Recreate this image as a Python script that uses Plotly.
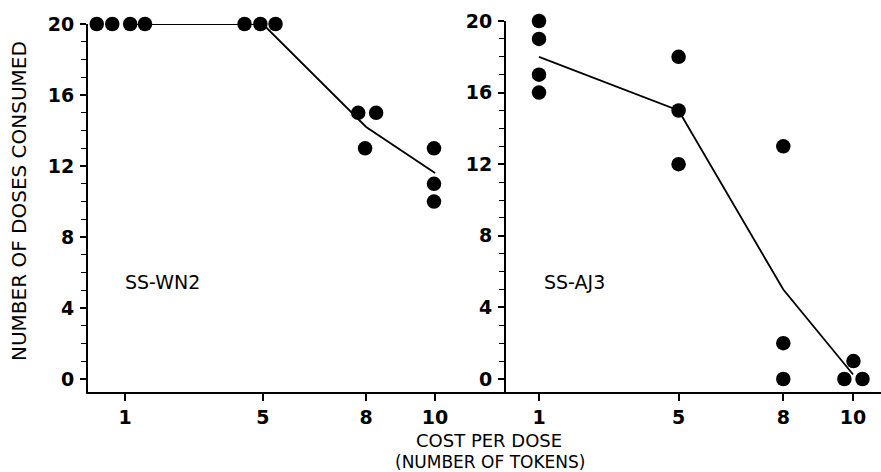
import plotly.graph_objects as go

# ---- data ----
cost_ticks = [1, 5, 8, 10]
cost_labels = ["1", "5", "8", "10"]
dose_ticks = [0, 4, 8, 12, 16, 20]
dose_labels = ["0", "4", "8", "12", "16", "20"]

# SS-WN2 individual sessions (x slightly jittered as drawn)
wn2_x = [0.18, 0.63, 1.15, 1.58, 4.47, 4.93, 5.37, 7.77, 8.29, 7.97, 9.97, 9.97, 9.97]
wn2_y = [20, 20, 20, 20, 20, 20, 20, 15, 15, 13, 13, 11, 10]
wn2_mean_x = [1, 5, 8, 10]
wn2_mean_y = [20, 20, 14.2, 11.6]

# SS-AJ3 individual sessions
aj3_x = [1, 1, 1, 1, 5, 5, 5, 8, 8, 8, 9.75, 10.01, 10.27]
aj3_y = [20, 19, 17, 16, 18, 15, 12, 13, 2, 0, 0, 1, 0]
aj3_mean_x = [1, 5, 8, 10]
aj3_mean_y = [18, 15, 5, 0.25]

W, H = 881, 472
FONT = "DejaVu Sans"

fig = go.Figure()

for xs, ys, mx, my, xa, ya in [
    (wn2_x, wn2_y, wn2_mean_x, wn2_mean_y, "x", "y"),
    (aj3_x, aj3_y, aj3_mean_x, aj3_mean_y, "x2", "y2"),
]:
    fig.add_trace(go.Scatter(x=mx, y=my, mode="lines", xaxis=xa, yaxis=ya,
                             line=dict(color="black", width=1.8),
                             cliponaxis=False, showlegend=False, hoverinfo="skip"))
    fig.add_trace(go.Scatter(x=xs, y=ys, mode="markers", xaxis=xa, yaxis=ya,
                             marker=dict(color="black", size=14.5, line=dict(width=0)),
                             cliponaxis=False, showlegend=False))

tickfont = dict(family=FONT, size=19, color="black", weight="bold")

def xaxis(domain, rng, anchor):
    return dict(domain=domain, range=rng, anchor=anchor, automargin=False,
                tickmode="array", tickvals=cost_ticks, ticktext=cost_labels,
                ticks="outside", ticklen=7, tickwidth=1.6, tickcolor="black",
                showline=True, linecolor="black", linewidth=2,
                showgrid=False, zeroline=False, tickfont=tickfont,
                ticklabelstandoff=0)

def yaxis(domain, rng, anchor):
    return dict(domain=domain, range=rng, anchor=anchor, automargin=False,
                tickmode="array", tickvals=dose_ticks, ticktext=dose_labels,
                ticks="outside", ticklen=6, tickwidth=1.6, tickcolor="black",
                minor=dict(dtick=1, tick0=0, ticks="outside", ticklen=5,
                           tickwidth=1.3, tickcolor="black", showgrid=False),
                showline=True, linecolor="black", linewidth=2,
                showgrid=False, zeroline=False, tickfont=tickfont,
                ticklabelstandoff=2)

xl0, xl1 = 88 / W, 506 / W
xr0, xr1 = 506 / W, 1.0
yb = (H - 392) / H

fig.update_layout(
    width=W, height=H,
    margin=dict(l=0, r=0, t=0, b=0, autoexpand=False),
    paper_bgcolor="white", plot_bgcolor="white",
    showlegend=False,
    xaxis=xaxis([xl0, xl1], [-0.074, 12.06], "y"),
    yaxis=yaxis([yb, (H - 24) / H], [-0.73, 20], "x"),
    xaxis2=xaxis([xr0, xr1], [0.054, 10.80], "y2"),
    yaxis2=yaxis([yb, (H - 21) / H], [-0.726, 20], "x2"),
    font=dict(family=FONT, color="black"),
)

ann_font = dict(family=FONT, size=19, color="black")
fig.add_annotation(text="SS-WN2", x=123 / W, y=1 - 282 / H, xref="paper", yref="paper",
                   xanchor="left", yanchor="middle", showarrow=False, font=ann_font)
fig.add_annotation(text="SS-AJ3", x=542 / W, y=1 - 282 / H, xref="paper", yref="paper",
                   xanchor="left", yanchor="middle", showarrow=False, font=ann_font)
fig.add_annotation(text="NUMBER OF DOSES CONSUMED", x=19 / W, y=1 - 201 / H,
                   xref="paper", yref="paper", textangle=-90,
                   xanchor="center", yanchor="middle", showarrow=False,
                   font=dict(family=FONT, size=20, color="black"))
fig.add_annotation(text="COST PER DOSE", x=489 / W, y=1 - 440 / H,
                   xref="paper", yref="paper", xanchor="center", yanchor="middle",
                   showarrow=False, font=dict(family=FONT, size=18, color="black"))
fig.add_annotation(text="(NUMBER OF TOKENS)", x=490 / W, y=1 - 462 / H,
                   xref="paper", yref="paper", xanchor="center", yanchor="middle",
                   showarrow=False, font=dict(family=FONT, size=17, color="black"))

fig.write_html("out.html", config={"displayModeBar": False},
               post_script="document.body.style.margin='0';document.body.style.overflow='hidden';")
